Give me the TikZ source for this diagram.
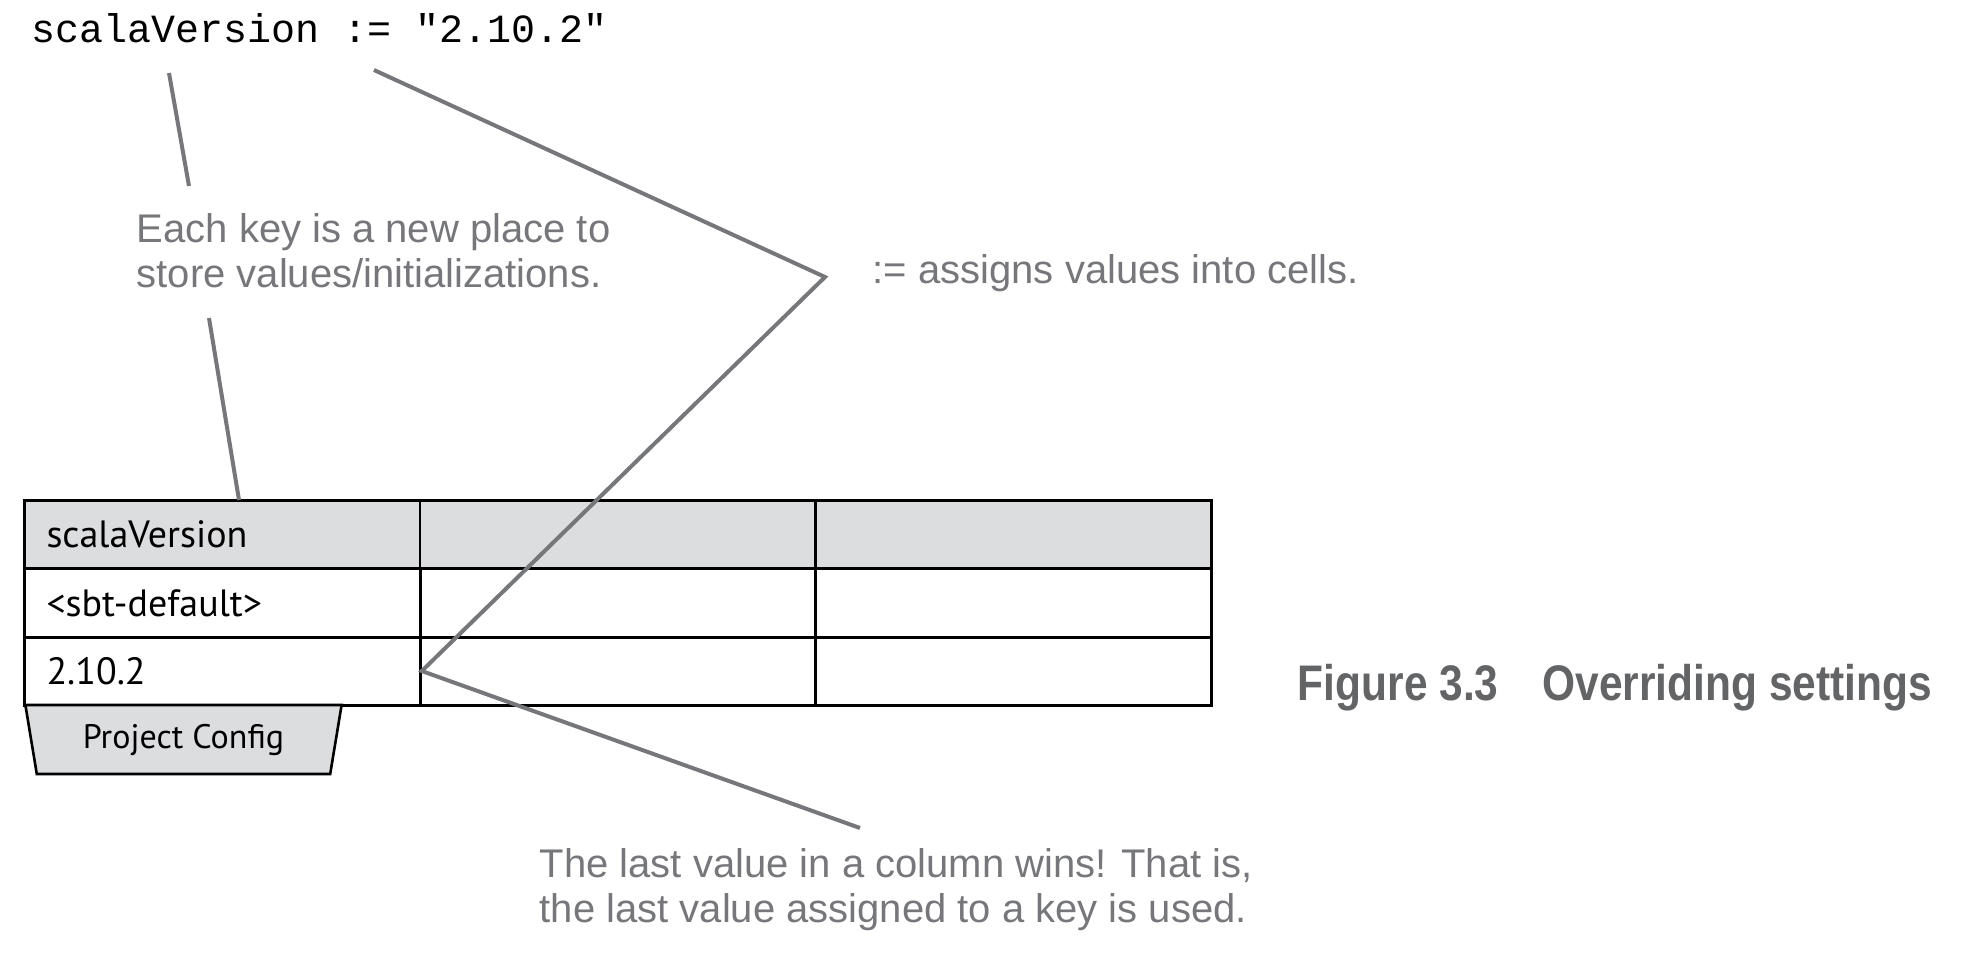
\documentclass[tikz,border=0pt]{standalone}
\usepackage{fontspec}
\setmainfont{Liberation Sans}
\setmonofont{Liberation Mono}
\newfontfamily\cellfont{PT Sans}
\newfontfamily\capfont{Liberation Sans}[FakeStretch=0.85]
\usepackage{xcolor}
\usepackage{tikz}
\usetikzlibrary{positioning,shapes.geometric}
\definecolor{notegray}{RGB}{118,119,122}
\definecolor{capgray}{RGB}{99,100,102}
\definecolor{headgray}{RGB}{220,221,223}

\begin{document}
\begin{tikzpicture}[
      x=0.25pt, y=-0.25pt,
      note/.style={inner sep=0pt, align=left, text=notegray,
        font=\fontsize{10}{11.2}\selectfont},
      leader/.style={draw=notegray, line width=1pt},
      cell/.style={draw, line width=0.65pt, minimum height=17.1pt,
        text width=88pt, inner xsep=5.5pt, align=left,
        font=\cellfont\fontsize{9.5}{11}\selectfont},
      headcell/.style={cell, fill=headgray}
    ]
    \useasboundingbox (0,0) rectangle (1974,978);
    % code line
    \node[inner sep=0pt, anchor=west, font=\ttfamily\fontsize{10}{12}\selectfont]
      (code) at (31,28) {scalaVersion := "2.10.2"};
    % callouts
    \node[note, anchor=west] (keynote) at (136,251) {
      Each key is a new place to\\
      store values/initializations.
    };
    \node[note, anchor=west] (assignnote) at (872,273) {
      := assigns values into cells.
    };
    \node[note, anchor=west] (lastnote) at (539,890) {
      The last value in a column wins! That is,\\
      the last value assigned to a key is used.
    };
    % table
    \node[headcell] (key) at (222.5,534.5) {scalaVersion};
    \node[headcell] (keyb) at (618,534.5) {};
    \node[headcell] (keyc) at (1013.5,534.5) {};
    \node[cell] (dflt) at (222.5,603) {<sbt-default>};
    \node[cell] (dfltb) at (618,603) {};
    \node[cell] (dfltc) at (1013.5,603) {};
    \node[cell] (val) at (222.5,671) {2.10.2};
    \node[cell] (valb) at (618,671) {};
    \node[cell] (valc) at (1013.5,671) {};
    \node[draw, line width=0.65pt, fill=headgray, trapezium,
      shape border rotate=180, trapezium angle=76, trapezium stretches=true,
      minimum width=79.25pt, minimum height=17.25pt, inner sep=0pt,
      font=\cellfont\fontsize{8.5}{10}\selectfont]
      (tab) at (183.5,739.5) {Project Config};
    % caption
    \node[inner sep=0pt, anchor=west, text=capgray,
      font=\capfont\bfseries\fontsize{12.5}{14}\selectfont]
      (caption) at (1297,688) {Figure 3.3\hspace{11pt}Overriding settings};
    % leaders
    \coordinate (codea) at (169,73);
    \coordinate (keytop) at (189,186);
    \coordinate (keybot) at (209,318);
    \coordinate (keyend) at (239,500);
    \coordinate (codeb) at (374,70);
    \coordinate (bend) at (825,277);
    \coordinate (lasttop) at (860,828);
    \draw[leader] (codea) -- (keytop);
    \draw[leader] (keybot) -- (keyend);
    \draw[leader] (codeb) -- (bend) -- (val.east) -- (lasttop);
  \end{tikzpicture}
\end{document}
